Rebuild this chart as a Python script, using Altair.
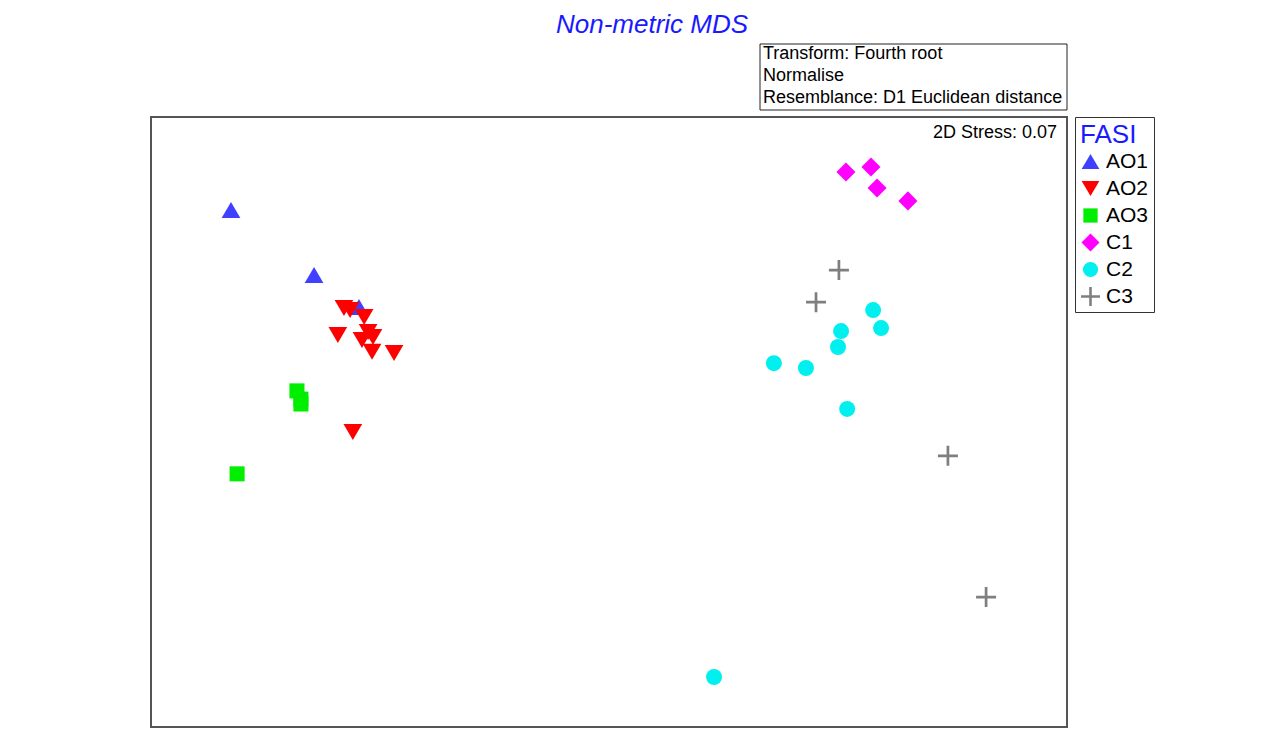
import altair as alt
import pandas as pd

# Groups of the FASI factor, in legend order
groups = ["AO1", "AO2", "AO3", "C1", "C2", "C3"]
group_colors = ["#4040ff", "#ff0000", "#00ee00", "#ff00ff", "#00f0f0", "#7f7f7f"]

# Symbol outlines in unit coordinates (scaled by the mark size)
tri_up = "M0,-1L1.17,1L-1.17,1Z"
tri_down = "M0,1L1.17,-1L-1.17,-1Z"
square = "M-0.94,-0.94L0.94,-0.94L0.94,0.94L-0.94,0.94Z"
diamond = "M0,-1.19L1.19,0L0,1.19L-1.19,0Z"
plus = "M-1.25,-0.17L1.25,-0.17L1.25,0.17L-1.25,0.17Z M-0.17,-1.25L0.17,-1.25L0.17,1.25L-0.17,1.25Z"
group_shapes = [tri_up, tri_down, square, diamond, "circle", plus]

# nMDS ordination coordinates (MDS1, MDS2) per group
ao1_x = [-1.238, -0.966, -0.819]
ao1_y = [0.695, 0.482, 0.377]

ao2_x = [-0.868, -0.848, -0.802, -0.888, -0.789, -0.809, -0.773, -0.776, -0.704, -0.839]
ao2_y = [0.374, 0.367, 0.344, 0.285, 0.295, 0.269, 0.279, 0.230, 0.226, -0.033]

ao3_x = [-1.022, -1.009, -1.009, -1.218]
ao3_y = [0.102, 0.075, 0.059, -0.170]

c1_x = [0.776, 0.858, 0.878, 0.979]
c1_y = [0.820, 0.836, 0.767, 0.725]

c2_x = [0.865, 0.891, 0.760, 0.750, 0.540, 0.645, 0.780, 0.344]
c2_y = [0.367, 0.308, 0.298, 0.246, 0.193, 0.177, 0.043, -0.836]

c3_x = [0.753, 0.678, 1.110, 1.235]
c3_y = [0.498, 0.393, -0.111, -0.574]

title_text = "Non-metric MDS"
info_text = "Transform: Fourth root\nNormalise\nResemblance: D1 Euclidean distance"
stress_text = "2D Stress: 0.07"

rows = []
for g, xs, ys in zip(groups, [ao1_x, ao2_x, ao3_x, c1_x, c2_x, c3_x],
                     [ao1_y, ao2_y, ao3_y, c1_y, c2_y, c3_y]):
    for xv, yv in zip(xs, ys):
        rows.append({"group": g, "MDS1": xv, "MDS2": yv})
df = pd.DataFrame(rows)

FONT = "Liberation Sans"
W, H = 916, 610

legend = alt.Legend(
    title="FASI", orient="none", legendX=W + 8, legendY=0,
    titleColor="#1a1aff", titleFontSize=26, titleFont=FONT, titleFontWeight="normal",
    labelFont=FONT, labelFontSize=21, labelColor="#000000", labelOffset=5,
    symbolSize=230, symbolStrokeWidth=0, rowPadding=5, padding=5,
    strokeColor="#333333", fillColor="#ffffff", titlePadding=3,
)

points = alt.Chart(df).mark_point(filled=True, opacity=1, size=256).encode(
    x=alt.X("MDS1:Q", scale=alt.Scale(domain=[-1.5, 1.5], nice=False, zero=False), axis=None),
    y=alt.Y("MDS2:Q", scale=alt.Scale(domain=[-1.0, 1.0], nice=False, zero=False), axis=None),
    color=alt.Color("group:N", scale=alt.Scale(domain=groups, range=group_colors), legend=legend),
    shape=alt.Shape("group:N", scale=alt.Scale(domain=groups, range=group_shapes), legend=legend),
)

anno = pd.DataFrame({"k": [0]})

title = alt.Chart(anno).mark_text(
    text=title_text, font=FONT, fontSize=26, fontStyle="italic", color="#1a1aff",
    align="center", baseline="middle",
).encode(x=alt.value(501), y=alt.value(-92))

info_box = alt.Chart(anno).mark_rect(fill="#ffffff", stroke="#222222", strokeWidth=1).encode(
    x=alt.value(609), x2=alt.value(916), y=alt.value(-73), y2=alt.value(-7)
)

info = alt.Chart(anno).mark_text(
    text=info_text, lineBreak="\n", lineHeight=22, font=FONT, fontSize=18,
    color="#000000", align="left", baseline="middle",
).encode(x=alt.value(612), y=alt.value(-63))

stress = alt.Chart(anno).mark_text(
    text=stress_text, font=FONT, fontSize=18, color="#000000",
    align="right", baseline="middle",
).encode(x=alt.value(906), y=alt.value(16))

chart = alt.layer(points, title, info_box, info, stress).properties(
    width=W, height=H,
    autosize="none",
    background="#ffffff",
    padding={"left": 151, "top": 117, "right": 217, "bottom": 4},
).configure_view(stroke="#555555", strokeWidth=2)

chart.save("out.html", embed_options={"renderer": "svg", "actions": False})
